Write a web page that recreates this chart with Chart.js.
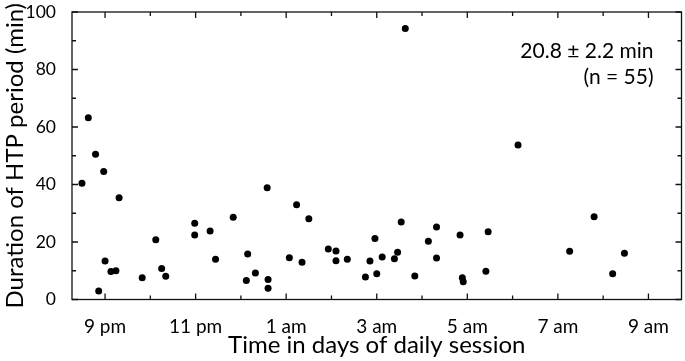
<!DOCTYPE html>
<html>
<head>
<meta charset="utf-8">
<script src="https://cdn.jsdelivr.net/npm/chart.js@4/dist/chart.umd.min.js"></script>
<style>
  html, body { margin: 0; padding: 0; background: #fff; }
  #wrap { width: 685px; height: 361px; }
</style>
</head>
<body>
<div id="wrap"><canvas id="chart"></canvas></div>
<script>
// session time in hours (values past 24 are after midnight)
const sessionHours = [
  20.49, 20.63, 20.79, 20.86, 20.97, 21.00, 21.13, 21.24, 21.31, 21.82,
  22.12, 22.25, 22.34, 22.98, 22.98, 23.32, 23.44, 23.83, 24.12, 24.15,
  24.32, 24.58, 24.60, 24.60, 25.07, 25.23, 25.35, 25.50, 25.93, 26.10,
  26.10, 26.35, 26.75, 26.85, 26.96, 27.00, 27.12, 27.39, 27.46, 27.54,
  27.63, 27.84, 28.14, 28.32, 28.32, 28.84, 28.89, 28.91, 29.41, 29.46,
  30.12, 31.26, 31.80, 32.21, 32.47
];
// duration of HTP period (min)
const durations = [
  40.4, 63.2, 50.5, 3.0, 44.5, 13.4, 9.7, 10.0, 35.4, 7.6,
  20.8, 10.8, 8.1, 26.5, 22.4, 23.8, 14.0, 28.6, 6.6, 15.8,
  9.2, 38.9, 7.0, 3.9, 14.5, 33.0, 13.0, 28.1, 17.6, 16.9,
  13.5, 14.0, 7.8, 13.4, 21.2, 9.0, 14.8, 14.2, 16.4, 27.0,
  94.3, 8.2, 20.3, 25.2, 14.4, 22.4, 7.6, 6.2, 9.8, 23.6,
  53.7, 16.8, 28.8, 9.0, 16.1
];

const xTickHours  = [21, 23, 25, 27, 29, 31, 33];
const xTickLabels = ['9 pm', '11 pm', '1 am', '3 am', '5 am', '7 am', '9 am'];
const xMinorHours = [22, 24, 26, 28, 30, 32];
const yTicks      = [0, 20, 40, 60, 80, 100];
const yMinor      = [10, 30, 50, 70, 90];
const summaryLines = ['20.8 \u00b1 2.2 min', '(n = 55)'];

const FONT = 'Lato';
const INK = '#000';

// frame with inward ticks on all four sides, plus the summary text
const framePlugin = {
  id: 'frame',
  afterDraw(chart) {
    const { ctx, chartArea: a, scales: { x, y } } = chart;
    ctx.save();
    ctx.strokeStyle = '#111';
    ctx.lineWidth = 1.3;
    ctx.strokeRect(a.left, a.top, a.right - a.left, a.bottom - a.top);

    const tickX = (vals, len) => vals.forEach(v => {
      const px = x.getPixelForValue(v);
      ctx.beginPath();
      ctx.moveTo(px, a.bottom); ctx.lineTo(px, a.bottom - len);
      ctx.moveTo(px, a.top);    ctx.lineTo(px, a.top + len);
      ctx.stroke();
    });
    const tickY = (vals, len) => vals.forEach(v => {
      const py = y.getPixelForValue(v);
      ctx.beginPath();
      ctx.moveTo(a.left, py);  ctx.lineTo(a.left + len, py);
      ctx.moveTo(a.right, py); ctx.lineTo(a.right - len, py);
      ctx.stroke();
    });
    tickX(xTickHours, 6); tickX(xMinorHours, 4);
    tickY(yTicks, 6);     tickY(yMinor, 4);

    ctx.fillStyle = INK;
    ctx.font = '21px ' + FONT;
    ctx.textAlign = 'right';
    ctx.textBaseline = 'alphabetic';
    ctx.fillText(summaryLines[0], a.right - 28, a.top + 46);
    ctx.fillText(summaryLines[1], a.right - 28, a.top + 72);
    ctx.restore();
  }
};

new Chart(document.getElementById('chart'), {
  type: 'scatter',
  data: {
    datasets: [{
      data: sessionHours.map((h, i) => ({ x: h, y: durations[i] })),
      backgroundColor: INK,
      borderWidth: 0,
      pointRadius: 3.5,
      pointHoverRadius: 3.5
    }]
  },
  options: {
    responsive: true,
    maintainAspectRatio: false,
    animation: false,
    layout: { padding: { top: 12, right: 2, left: 0, bottom: 0 } },
    plugins: { legend: { display: false }, tooltip: { enabled: false } },
    scales: {
      x: {
        type: 'linear',
        min: 20.27,
        max: 33.73,
        grid: { display: false },
        border: { display: false },
        afterBuildTicks: s => { s.ticks = xTickHours.map(v => ({ value: v })); },
        afterFit: s => { s.height = 61.5; s.paddingLeft = 0; s.paddingRight = 0; },
        ticks: {
          autoSkip: false,
          maxRotation: 0,
          padding: 8,
          color: INK,
          font: { family: FONT, size: 19 },
          callback: v => xTickLabels[xTickHours.indexOf(v)]
        },
        title: {
          display: true,
          text: 'Time in days of daily session',
          color: INK,
          font: { family: FONT, size: 24 },
          padding: { top: 0, bottom: 1 }
        }
      },
      y: {
        min: 0,
        max: 100,
        grid: { display: false },
        border: { display: false },
        afterBuildTicks: s => { s.ticks = yTicks.map(v => ({ value: v })); },
        afterFit: s => { s.width = 72; s.paddingTop = 0; s.paddingBottom = 0; },
        ticks: {
          padding: 8,
          color: INK,
          font: { family: FONT, size: 17.5 }
        },
        title: {
          display: true,
          text: 'Duration of HTP period (min)',
          color: INK,
          font: { family: FONT, size: 24 },
          padding: { top: 1, bottom: 0 }
        }
      }
    }
  },
  plugins: [framePlugin]
});
</script>
</body>
</html>
